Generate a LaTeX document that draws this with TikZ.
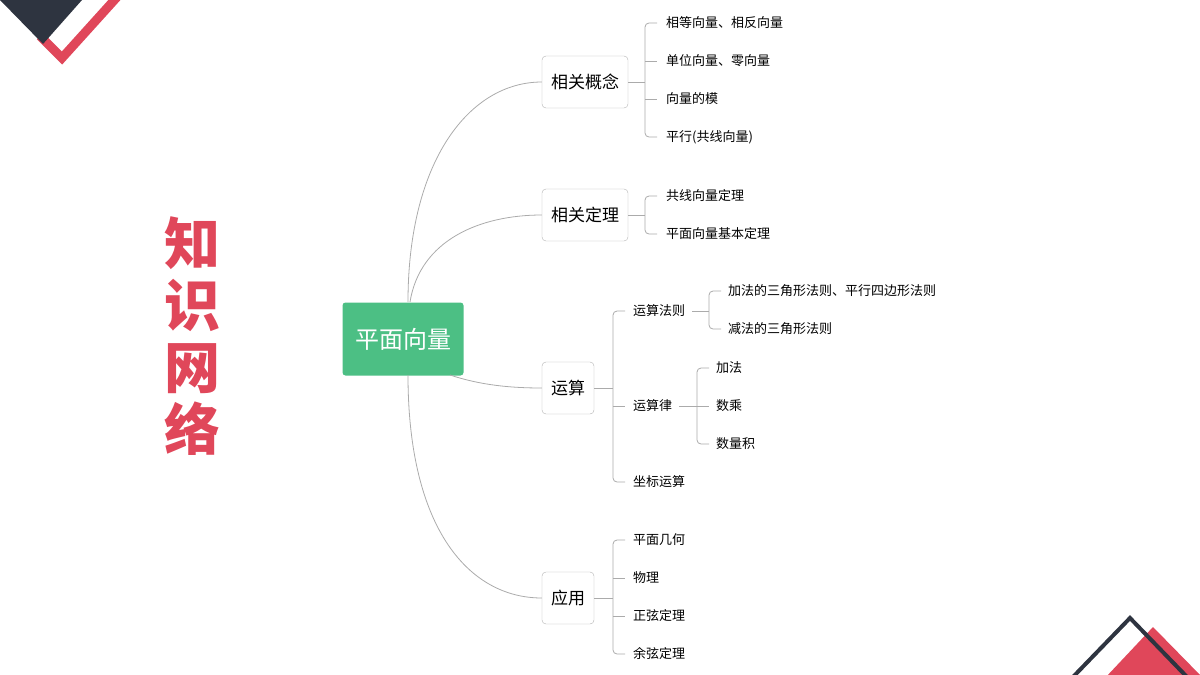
\documentclass[tikz,border=0pt]{standalone}
\usepackage{fontspec}
\setmainfont{Noto Sans CJK SC}
\newfontfamily\cjk{Noto Sans CJK SC}
\usetikzlibrary{positioning}
\definecolor{mapgreen}{HTML}{4CBF84}
\definecolor{mapred}{HTML}{E0475A}
\definecolor{mapdark}{HTML}{2E3440}
\definecolor{mapline}{HTML}{ABABAB}
\begin{document}
\begin{tikzpicture}[x=1pt,y=-1pt,
	root/.style={fill=mapgreen, rounded corners=3pt, text=white, minimum width=121pt,
		minimum height=73pt, font=\fontsize{24}{24}\selectfont},
	topic/.style={draw=black!30, rounded corners=4pt, minimum height=52pt, inner xsep=9pt,
		font=\fontsize{17}{17}\selectfont},
	leaf/.style={anchor=west, inner sep=1pt, font=\fontsize{13}{14}\selectfont},
	link/.style={draw=mapline, line width=0.8pt},
	brace/.style={draw=mapline, line width=0.8pt, rounded corners=4pt}
]
\useasboundingbox (0,0) rectangle (1200,675);

% corners
\draw[mapred, line width=9pt, line join=miter] (40,36) -- (62,58) -- (118,-4);
\fill[mapdark] (0,0) -- (82,0) -- (43,44) -- cycle;
\fill[mapred] (1153,627) -- (1105,678) -- (1203,678) -- cycle;
\draw[mapdark, line width=4pt] (1072,678) -- (1130,618) -- (1188,678);

% title
\node[text=mapred, font=\fontsize{56}{62}\selectfont\bfseries, align=center] (title) at (192,336)
	{知\\识\\网\\络};

% root and topics
\node[root] (root) at (403,339) {平面向量};
\node[topic] (concept) at (585,82) {相关概念};
\node[topic] (theorem) at (585,215) {相关定理};
\node[topic] (calc) at (568,388) {运算};
\node[topic] (apply) at (568,598) {应用};

\draw[link] (408,302) .. controls (408,160) and (470,82) .. (concept.west);
\draw[link] (410,302) .. controls (420,240) and (480,215) .. (theorem.west);
\draw[link] (450,375) .. controls (480,385) and (510,388) .. (calc.west);
\draw[link] (408,375) .. controls (408,530) and (470,598) .. (apply.west);

% 相关概念
\foreach \y/\t [count=\i] in {23/相等向量、相反向量, 61/单位向量、零向量, 99/向量的模, 137/平行(共线向量)}
	\node[leaf] (c\i) at (665,\y) {\t};
\draw[link] (concept.east) -- (645,82);
\draw[brace] (657,23) -- (645,23) -- (645,137) -- (657,137);
\foreach \i in {2,3} \draw[link] (645,0 |- c\i.west) -- ++(12,0);

% 相关定理
\node[leaf] (t1) at (665,196) {共线向量定理};
\node[leaf] (t2) at (665,234) {平面向量基本定理};
\draw[link] (theorem.east) -- (645,215);
\draw[brace] (657,196) -- (645,196) -- (645,234) -- (657,234);

% 运算
\node[leaf] (law) at (632,311) {运算法则};
\node[leaf] (rule) at (632,406) {运算律};
\node[leaf] (coord) at (632,482) {坐标运算};
\draw[link] (calc.east) -- (613,388);
\draw[brace] (625,311) -- (613,311) -- (613,482) -- (625,482);
\draw[link] (613,406) -- (625,406);

\node[leaf] (law1) at (727,291) {加法的三角形法则、平行四边形法则};
\node[leaf] (law2) at (727,329) {减法的三角形法则};
\draw[link] (law.east) ++(6,0) -- (709,311);
\draw[brace] (721,291) -- (709,291) -- (709,329) -- (721,329);

\node[leaf] (rule1) at (715,368) {加法};
\node[leaf] (rule2) at (715,406) {数乘};
\node[leaf] (rule3) at (715,444) {数量积};
\draw[link] (rule.east) ++(6,0) -- (709,406);
\draw[brace] (709,368) -- (697,368) -- (697,444) -- (709,444);

% 应用
\foreach \y/\t [count=\i] in {540/平面几何, 578/物理, 616/正弦定理, 654/余弦定理}
	\node[leaf] (a\i) at (632,\y) {\t};
\draw[link] (apply.east) -- (613,598);
\draw[brace] (625,540) -- (613,540) -- (613,654) -- (625,654);
\draw[link] (613,578) -- (625,578);
\draw[link] (613,616) -- (625,616);
\end{tikzpicture}
\end{document}
